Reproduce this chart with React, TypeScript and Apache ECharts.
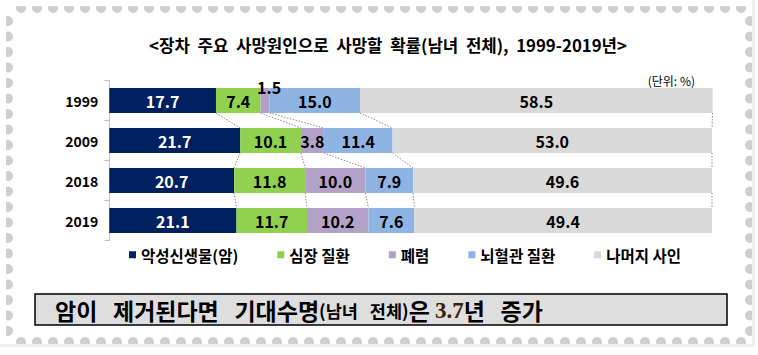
import React, { useEffect, useRef } from "react";
import * as echarts from "echarts";

const years = ["1999", "2009", "2018", "2019"];
const seriesNames = ["악성신생물(암)", "심장 질환", "폐렴", "뇌혈관 질환", "나머지 사인"];
const cancer = [17.7, 21.7, 20.7, 21.1];
const heart = [7.4, 10.1, 11.8, 11.7];
const pneumonia = [1.5, 3.8, 10.0, 10.2];
const cerebro = [15.0, 11.4, 7.9, 7.6];
const others = [58.5, 53.0, 49.6, 49.4];
const colors = ["#002060", "#92D050", "#B3A2C7", "#8EB4E3", "#D9D9D9"];
const titleText = "<장차  주요  사망원인으로  사망할  확률(남녀  전체),  1999-2019년>";
const unitText = "(단위: %)";

const FONT = "'Noto Sans CJK KR', 'Noto Sans', sans-serif";

export default function App() {
  const ref = useRef<HTMLDivElement>(null);
  useEffect(() => {
    if (!ref.current) return;
    const chart = echarts.init(ref.current, null, { renderer: "svg" });
    const all = [cancer, heart, pneumonia, cerebro, others];
    const cums: number[][] = [];
    let run = years.map(() => 0);
    all.forEach((arr) => {
      run = run.map((v, i) => +(v + arr[i]).toFixed(2));
      cums.push(run.slice());
    });
    const connData: number[][] = [];
    cums.forEach((c) => {
      for (let i = 0; i < years.length - 1; i++) connData.push([c[i], i, c[i + 1]]);
    });
    const HALF = 12.5;

    const barSeries = all.map((arr, si) => ({
      type: "bar",
      name: seriesNames[si],
      stack: "total",
      barWidth: 25,
      clip: false,
      itemStyle: { color: colors[si] },
      label: {
        show: true,
        position: "inside",
        color: si === 0 ? "#ffffff" : "#000000",
        fontSize: 16,
        fontWeight: "bold",
        fontFamily: FONT,
        formatter: (p: any) => Number(p.value).toFixed(1),
      },
      data: arr.map((v, i) => {
        if (si === 2 && i === 0) {
          return {
            value: v,
            label: { position: "top", distance: -7, offset: [4, 0] },
          };
        }
        return v;
      }),
    }));

    const deco: any[] = [];
    const L = 8, T = 8, R = 750, B = 342, rad = 5;
    for (let x = 21; x < R - 4; x += 16) {
      deco.push({ type: "circle", shape: { cx: x, cy: T, r: rad }, style: { fill: "#cfcfcf" }, z: 1 });
      deco.push({ type: "circle", shape: { cx: x, cy: B, r: rad }, style: { fill: "#cfcfcf" }, z: 1 });
    }
    for (let y = 21; y < B - 4; y += 15.5) {
      deco.push({ type: "circle", shape: { cx: L, cy: y, r: rad }, style: { fill: "#cfcfcf" }, z: 1 });
      deco.push({ type: "circle", shape: { cx: R, cy: y, r: rad }, style: { fill: "#cfcfcf" }, z: 1 });
    }
    deco.push({ type: "rect", shape: { x: 0, y: 0, width: 758, height: T - 2 }, style: { fill: "#fff" }, z: 2 });
    deco.push({ type: "rect", shape: { x: 0, y: 0, width: L - 2, height: 355 }, style: { fill: "#fff" }, z: 2 });
    deco.push({ type: "rect", shape: { x: R + 2, y: 0, width: 10, height: 355 }, style: { fill: "#f0f0f0" }, z: 2 });
    deco.push({ type: "rect", shape: { x: 0, y: B + 2, width: 758, height: 20 }, style: { fill: "#f0f0f0" }, z: 2 });
    deco.push({ type: "rect", shape: { x: R + 5, y: 0, width: 10, height: 355 }, style: { fill: "#fff" }, z: 3 });
    deco.push({ type: "rect", shape: { x: 0, y: B + 5, width: 758, height: 20 }, style: { fill: "#fff" }, z: 3 });

    chart.setOption({
      animation: false,
      backgroundColor: "#ffffff",
      textStyle: { fontFamily: FONT },
      grid: { left: 109.3, right: 46, top: 80.5, height: 160, containLabel: false },
      xAxis: { type: "value", min: 0, max: 100, show: false },
      yAxis: {
        type: "category",
        inverse: true,
        data: years,
        axisLine: { show: true, lineStyle: { color: "#bfbfbf" } },
        axisTick: { show: true, length: 5, lineStyle: { color: "#bfbfbf" } },
        axisLabel: { color: "#000", fontSize: 14, fontWeight: "bold", margin: 11, fontFamily: FONT },
      },
      legend: {
        data: seriesNames,
        left: 129,
        top: 247,
        padding: 0,
        icon: "rect",
        itemWidth: 7,
        itemHeight: 7,
        itemGap: 39,
        textStyle: { color: "#000", fontSize: 15.5, fontWeight: "bold", fontFamily: FONT },
      },
      graphic: [
        ...deco,
        {
          type: "text",
          x: 388,
          y: 45,
          style: {
            text: titleText,
            textAlign: "center",
            textVerticalAlign: "middle",
            font: `bold 16.8px ${FONT}`,
            fill: "#000",
          },
        },
        {
          type: "text",
          x: 695,
          y: 80,
          style: {
            text: unitText,
            textAlign: "right",
            textVerticalAlign: "middle",
            font: `12px ${FONT}`,
            fill: "#000",
          },
        },
        {
          type: "rect",
          shape: { x: 35, y: 294, width: 692, height: 31 },
          style: { fill: "#dedede", stroke: "#000", lineWidth: 1.5 },
        },
        {
          type: "text",
          x: 55,
          y: 310,
          style: {
            text: "{a|암이   제거된다면   기대수명}{b|(남녀   전체)}{a|은 }{c|3.7}{a|년   증가}",
            textVerticalAlign: "middle",
            rich: {
              a: { fontSize: 23, fontFamily: FONT, fontWeight: "bold", fill: "#000", color: "#000" },
              b: { fontSize: 17.5, fontFamily: FONT, fontWeight: "bold", fill: "#000", color: "#000" },
              c: { fontSize: 23, fontFamily: "'Liberation Serif', serif", fontWeight: "bold", fill: "#3a2000", color: "#3a2000" },
            },
          },
        },
      ],
      series: [
        ...barSeries,
        {
          type: "custom",
          name: "connectors",
          silent: true,
          z: 5,
          encode: { x: [0, 2], y: 1 },
          data: connData,
          renderItem: (params: any, api: any) => {
            const p1 = api.coord([api.value(0), api.value(1)]);
            const p2 = api.coord([api.value(2), api.value(1) + 1]);
            return {
              type: "line",
              shape: { x1: p1[0], y1: p1[1] + HALF, x2: p2[0], y2: p2[1] - HALF },
              style: { stroke: "#8c8c8c", lineWidth: 1, lineDash: [1.5, 1.5] },
            };
          },
        },
      ],
    });
    return () => chart.dispose();
  }, []);
  return <div ref={ref} style={{ position: "fixed", left: 0, top: 0, width: 758, height: 355 }} />;
}
